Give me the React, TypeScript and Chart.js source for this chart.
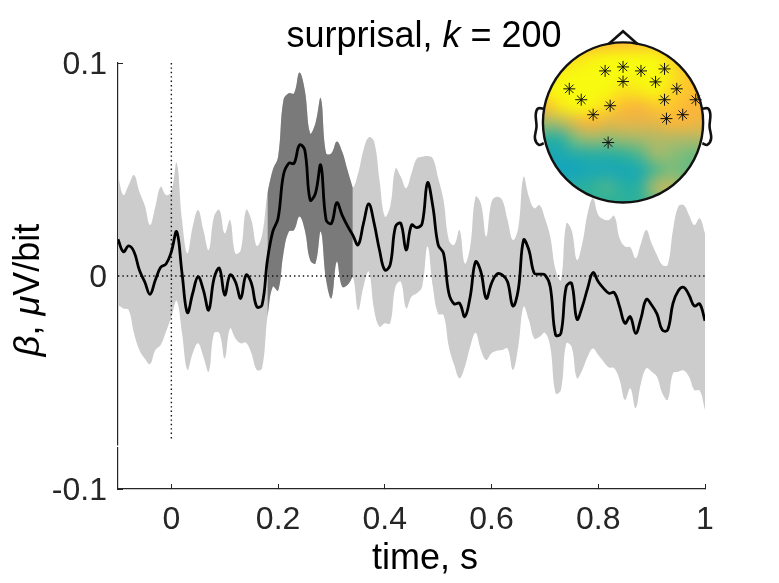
import React, { useEffect, useRef } from "react";
import { Chart, registerables, Plugin } from "chart.js";

Chart.register(...registerables);

const FONT = '"Liberation Sans", Arial, sans-serif';
const TEXT = "#262626";

const time = [
  -0.1, -0.09, -0.08, -0.07, -0.06, -0.05, -0.04, -0.03, -0.02, -0.01,
  0, 0.01, 0.02, 0.03, 0.04, 0.05, 0.06, 0.07, 0.08, 0.09,
  0.1, 0.11, 0.12, 0.13, 0.14, 0.15, 0.16, 0.17, 0.18, 0.19,
  0.2, 0.21, 0.22, 0.23, 0.24, 0.25, 0.26, 0.27, 0.28, 0.29,
  0.3, 0.31, 0.32, 0.33, 0.34, 0.35, 0.36, 0.37, 0.38, 0.39,
  0.4, 0.41, 0.42, 0.43, 0.44, 0.45, 0.46, 0.47, 0.48, 0.49,
  0.5, 0.51, 0.52, 0.53, 0.54, 0.55, 0.56, 0.57, 0.58, 0.59,
  0.6, 0.61, 0.62, 0.63, 0.64, 0.65, 0.66, 0.67, 0.68, 0.69,
  0.7, 0.71, 0.72, 0.73, 0.74, 0.75, 0.76, 0.77, 0.78, 0.79,
  0.8, 0.81, 0.82, 0.83, 0.84, 0.85, 0.86, 0.87, 0.88, 0.89,
  0.9, 0.91, 0.92, 0.93, 0.94, 0.95, 0.96, 0.97, 0.98, 0.99, 1,
];

const mean = [
  0.0172, 0.0114, 0.0141, 0.0114, 0.0028, -0.0027, -0.0086, -0.0019, 0.0041, 0.0056,
  0.0114, 0.0208, 0.0013, -0.0172, -0.0081, -0.0003, -0.0066, -0.016, -0.0011, 0.0036,
  -0.0089, 0.0005, -0.0027, -0.0105, 0.0005, -0.0034, -0.0144, -0.0136, 0.0075, 0.0208,
  0.0271, 0.0474, 0.0529, 0.0529, 0.0615, 0.0592, 0.0357, 0.0388, 0.0521, 0.0263,
  0.0247, 0.0344, 0.0286, 0.0235, 0.0192, 0.0146, 0.0247, 0.0338, 0.0247, 0.0122,
  0.0028, 0.0052, 0.0232, 0.0247, 0.0122, 0.0239, 0.0227, 0.0247, 0.0438, 0.0326,
  0.0146, 0.0106, -0.0081, -0.0131, -0.0128, -0.0191, -0.0097, 0.0067, 0.002, -0.0105,
  -0.0034, 0.0009, 0.0005, -0.0027, -0.0141, -0.0066, 0.0169, 0.0122, 0.0013, 0.0009,
  0.0005, -0.005, -0.0277, -0.0269, -0.005, -0.0034, -0.0203, -0.0144, -0.0058, 0.0016,
  -0.0027, -0.0058, -0.0081, -0.0078, -0.0144, -0.0222, -0.0191, -0.0269, -0.0199, -0.011,
  -0.0136, -0.0178, -0.0254, -0.0254, -0.0128, -0.0069, -0.0053, -0.0089, -0.0141, -0.0131, -0.021,
];

const upper = [
  0.0474, 0.038, 0.0427, 0.0474, 0.0396, 0.0333, 0.0239, 0.0326, 0.0419, 0.038,
  0.0396, 0.0532, 0.0263, 0.0106, 0.0232, 0.031, 0.0216, 0.0122, 0.0279, 0.031,
  0.02, 0.0263, 0.0106, 0.0122, 0.031, 0.0263, 0.0141, 0.0192, 0.0388, 0.0498,
  0.056, 0.0826, 0.0858, 0.0858, 0.0955, 0.0873, 0.067, 0.0717, 0.0834, 0.0576,
  0.0576, 0.0631, 0.0584, 0.0498, 0.0416, 0.0482, 0.0592, 0.0651, 0.0631, 0.0451,
  0.0279, 0.0326, 0.0505, 0.0466, 0.0412, 0.0482, 0.0552, 0.056, 0.0563, 0.0552,
  0.0459, 0.0357, 0.0169, 0.0146, 0.0216, 0.0059, 0.0138, 0.0372, 0.0341, 0.0185,
  0.0349, 0.0372, 0.0357, 0.0263, 0.0169, 0.0224, 0.0466, 0.0372, 0.0318, 0.0333,
  0.0271, 0.0185, 0.0028, -0.0019, 0.0247, 0.0216, 0.0075, 0.0153, 0.0294, 0.0365,
  0.0286, 0.0266, 0.0263, 0.0282, 0.0177, 0.0138, 0.0135, 0.0083, 0.0153, 0.0216,
  0.0153, 0.0099, 0.0052, 0.0052, 0.0216, 0.0326, 0.0333, 0.0286, 0.0239, 0.0271, 0.02,
];

const lower = [
  -0.0136, -0.0152, -0.016, -0.0269, -0.0347, -0.0387, -0.0413, -0.0347, -0.0324, -0.0261,
  -0.0191, -0.0116, -0.0269, -0.0441, -0.0363, -0.0316, -0.0379, -0.0449, -0.0269, -0.0269,
  -0.0387, -0.0246, -0.0293, -0.0316, -0.0313, -0.0363, -0.0441, -0.0433, -0.0191, -0.005,
  -0.0069, 0.0106, 0.0208, 0.0216, 0.0279, 0.0216, 0.0075, 0.0059, 0.0208, -0.0019,
  -0.0105, 0.0067, -0.005, -0.0042, -0.0003, -0.016, -0.005, 0.002, -0.016, -0.0238,
  -0.0222, -0.0222, -0.005, -0.0027, -0.0152, -0.0097, -0.0081, -0.005, 0.0138, -0.005,
  -0.0178, -0.0183, -0.0332, -0.0418, -0.048, -0.0426, -0.0332, -0.0266, -0.0347, -0.0394,
  -0.0363, -0.0351, -0.0347, -0.034, -0.0441, -0.0332, -0.0144, -0.0207, -0.0293, -0.0285,
  -0.0266, -0.0332, -0.0551, -0.0535, -0.0316, -0.0332, -0.048, -0.0441, -0.0379, -0.034,
  -0.0371, -0.0402, -0.0429, -0.0433, -0.0488, -0.0582, -0.0527, -0.0621, -0.0504, -0.0433,
  -0.0449, -0.0473, -0.0551, -0.0582, -0.0457, -0.0449, -0.0444, -0.0473, -0.0535, -0.0538, -0.0629,
];

// significant window, 0.18 to 0.34 s
const sigStart = 28;
const sigEnd = 44;

const xTicks = [0, 0.2, 0.4, 0.6, 0.8, 1];
const yTicks = [-0.1, 0, 0.1];

// electrode positions, head radius = 1
const elecX = [-0.224, 0, 0.224, 0.518, 0, 0.406, -0.671, 0.671, -0.522, 0.518, 0.907, -0.161, -0.373, 0.745, 0.542, -0.186];
const elecY = [0.644, 0.694, 0.644, 0.669, 0.511, 0.507, 0.42, 0.42, 0.284, 0.284, 0.284, 0.209, 0.097, 0.097, 0.048, -0.251];

const noseX = [-0.18, 0, 0.18];
const noseY = [0.98, 1.14, 0.98];
const earX = [0.98, 1.06, 1.09, 1.08, 1.1, 1.05, 0.99];
const earY = [0.17, 0.175, 0.1, -0.05, -0.2, -0.28, -0.26];

// scalp map, rows from y = 1 to y = -1, columns from x = -1 to x = 1
const topoGrid = [
  [0.8, 0.8, 0.8, 0.8, 0.8, 0.82, 0.82, 0.82, 0.8, 0.8, 0.8],
  [0.85, 0.87, 0.92, 0.97, 1, 1, 1, 1, 0.9, 0.82, 0.8],
  [0.92, 0.97, 1, 1, 1, 1, 1, 1, 0.95, 0.85, 0.82],
  [0.97, 1, 1, 1, 1, 0.93, 0.95, 1, 0.9, 0.85, 0.8],
  [0.8, 0.93, 1, 0.98, 0.9, 0.82, 0.78, 0.85, 0.85, 0.8, 0.78],
  [0.5, 0.55, 0.7, 0.8, 0.72, 0.72, 0.72, 0.72, 0.8, 0.78, 0.75],
  [0.2, 0.15, 0.4, 0.5, 0.45, 0.5, 0.52, 0.55, 0.55, 0.55, 0.55],
  [0.05, 0.05, 0.12, 0.15, 0.15, 0.2, 0.28, 0.5, 0.45, 0.38, 0.35],
  [0, 0, 0, 0.05, 0.05, 0.04, 0.06, 0.28, 0.4, 0.35, 0.35],
  [0.15, 0.15, 0.15, 0.2, 0.27, 0.15, 0.18, 0.55, 0.6, 0.4, 0.35],
  [0.2, 0.2, 0.2, 0.2, 0.2, 0.2, 0.2, 0.35, 0.5, 0.4, 0.35],
];

const topoStops = [
  [20, 165, 188],
  [46, 177, 154],
  [125, 189, 122],
  [196, 183, 95],
  [253, 182, 56],
  [248, 250, 15],
];

function topoColor(v: number) {
  const p = Math.min(0.9999, Math.max(0, v)) * (topoStops.length - 1);
  const i = Math.floor(p);
  const f = p - i;
  return topoStops[i].map((c, k) => Math.round(c + (topoStops[i + 1][k] - c) * f));
}

type Run = { text: string; italic?: boolean };

function drawRuns(ctx: CanvasRenderingContext2D, runs: Run[], size: number) {
  let total = 0;
  runs.forEach((r) => {
    ctx.font = `${r.italic ? "italic " : ""}${size}px ${FONT}`;
    total += ctx.measureText(r.text).width;
  });
  let x = -total / 2;
  runs.forEach((r) => {
    ctx.font = `${r.italic ? "italic " : ""}${size}px ${FONT}`;
    ctx.fillText(r.text, x, 0);
    x += ctx.measureText(r.text).width;
  });
}

// title and axis labels have mixed italics, which chart.js titles can't do
const labelsPlugin: Plugin<"line"> = {
  id: "labels",
  afterDraw(chart) {
    const { ctx } = chart;
    ctx.save();
    ctx.fillStyle = "#000000";
    ctx.textAlign = "left";
    ctx.textBaseline = "alphabetic";

    ctx.save();
    ctx.translate(424, 47);
    drawRuns(ctx, [{ text: "surprisal, " }, { text: "k", italic: true }, { text: " = 200" }], 36);
    ctx.restore();

    ctx.save();
    ctx.translate(425, 569);
    drawRuns(ctx, [{ text: "time, s" }], 36);
    ctx.restore();

    ctx.save();
    ctx.translate(39, 290);
    ctx.rotate(-Math.PI / 2);
    drawRuns(
      ctx,
      [{ text: "β", italic: true }, { text: ", " }, { text: "μ", italic: true }, { text: "V/bit" }],
      36
    );
    ctx.restore();

    // small break in the y axis
    ctx.fillStyle = "#ffffff";
    ctx.fillRect(116.5, 445.5, 3, 1.5);
    ctx.restore();
  },
};

const headPlugin: Plugin<"scatter"> = {
  id: "head",
  beforeDatasetsDraw(chart) {
    const { ctx } = chart;
    const sx = chart.scales.x;
    const sy = chart.scales.y;
    const cx = sx.getPixelForValue(0);
    const cy = sy.getPixelForValue(0);
    const r = sx.getPixelForValue(1) - cx;

    const rows = topoGrid.length;
    const cols = topoGrid[0].length;
    const off = document.createElement("canvas");
    off.width = cols;
    off.height = rows;
    const octx = off.getContext("2d");
    if (!octx) return;
    const img = octx.createImageData(cols, rows);
    topoGrid.forEach((row, j) => {
      row.forEach((v, i) => {
        const [cr, cg, cb] = topoColor(v);
        const o = (j * cols + i) * 4;
        img.data[o] = cr;
        img.data[o + 1] = cg;
        img.data[o + 2] = cb;
        img.data[o + 3] = 255;
      });
    });
    octx.putImageData(img, 0, 0);

    ctx.save();
    ctx.beginPath();
    ctx.arc(cx, cy, r, 0, Math.PI * 2);
    ctx.clip();
    ctx.imageSmoothingEnabled = true;
    ctx.imageSmoothingQuality = "high";
    ctx.filter = "blur(4px)";
    ctx.drawImage(off, cx - r * 1.1, cy - r * 1.1, r * 2.2, r * 2.2);
    ctx.restore();

    ctx.save();
    ctx.beginPath();
    ctx.arc(cx, cy, r, 0, Math.PI * 2);
    ctx.lineWidth = 2.4;
    ctx.strokeStyle = "#111111";
    ctx.stroke();
    ctx.restore();
  },
};

function TopoMap() {
  const ref = useRef<HTMLCanvasElement | null>(null);

  useEffect(() => {
    if (!ref.current) return;
    const outline = (xs: number[], ys: number[], sign: number, tension: number) => ({
      type: "line" as const,
      data: xs.map((x, i) => ({ x: x * sign, y: ys[i] })),
      borderColor: "#111111",
      borderWidth: 2.6,
      pointRadius: 0,
      tension,
      showLine: true,
      fill: false,
    });
    const chart = new Chart(ref.current, {
      type: "scatter",
      data: {
        datasets: [
          {
            data: elecX.map((x, i) => ({ x, y: elecY[i] })),
            pointStyle: "star",
            pointRadius: 6,
            borderColor: "#111111",
            backgroundColor: "#111111",
            borderWidth: 1,
          },
          outline(noseX, noseY, 1, 0),
          outline(earX, earY, 1, 0.35),
          outline(earX, earY, -1, 0.35),
        ] as any,
      },
      options: {
        animation: false,
        responsive: false,
        layout: { padding: 0 },
        plugins: { legend: { display: false }, tooltip: { enabled: false } },
        scales: {
          x: { type: "linear", display: false, min: -1.199, max: 1.248 },
          y: { type: "linear", display: false, min: -1.006, max: 1.1925 },
        },
      },
      plugins: [headPlugin],
    });
    return () => chart.destroy();
  }, []);

  return (
    <canvas
      ref={ref}
      width={210}
      height={190}
      style={{ position: "absolute", left: 520, top: 20, display: "block" }}
    />
  );
}

export default function App() {
  const ref = useRef<HTMLCanvasElement | null>(null);

  useEffect(() => {
    if (!ref.current) return;
    const pts = (ys: number[], from = 0, to = ys.length - 1) =>
      time.slice(from, to + 1).map((x, i) => ({ x, y: ys[from + i] }));
    const band = { borderWidth: 0, pointRadius: 0, tension: 0.4 };
    const dotted = {
      borderColor: "#111111",
      borderWidth: 1.4,
      borderDash: [1.4, 3],
      pointRadius: 0,
      fill: false,
      order: 1,
    };

    const chart = new Chart(ref.current, {
      type: "line",
      data: {
        datasets: [
          { data: pts(upper), fill: 1, backgroundColor: "#cccccc", order: 3, ...band },
          { data: pts(lower), fill: false, order: 3, ...band },
          { data: pts(upper, sigStart, sigEnd), fill: 3, backgroundColor: "#7a7a7a", order: 2, ...band },
          { data: pts(lower, sigStart, sigEnd), fill: false, order: 2, ...band },
          { data: [{ x: -0.1, y: 0 }, { x: 1, y: 0 }], ...dotted },
          { data: [{ x: 0, y: 0.1 }, { x: 0, y: -0.0775 }], ...dotted },
          {
            data: pts(mean),
            borderColor: "#000000",
            borderWidth: 2.8,
            pointRadius: 0,
            tension: 0.4,
            fill: false,
            order: 0,
          },
        ],
      },
      options: {
        animation: false,
        responsive: false,
        layout: { padding: { top: 63, right: 74 } },
        plugins: { legend: { display: false }, tooltip: { enabled: false } },
        scales: {
          x: {
            type: "linear",
            min: -0.1,
            max: 1,
            afterFit: (s) => {
              s.height = 94;
            },
            afterBuildTicks: (s) => {
              s.ticks = xTicks.map((value) => ({ value }));
            },
            border: { color: TEXT, width: 1.2 },
            grid: { drawOnChartArea: false, tickLength: -5, tickColor: TEXT, tickWidth: 1 },
            ticks: {
              color: TEXT,
              padding: 17,
              maxRotation: 0,
              font: { family: FONT, size: 32 },
              callback: (v) => String(v),
            },
          },
          y: {
            type: "linear",
            min: -0.1,
            max: 0.1,
            afterFit: (s) => {
              s.width = 118;
            },
            afterBuildTicks: (s) => {
              s.ticks = yTicks.map((value) => ({ value }));
            },
            border: { color: TEXT, width: 1.2 },
            grid: { drawOnChartArea: false, tickLength: -5, tickColor: TEXT, tickWidth: 1 },
            ticks: {
              color: TEXT,
              padding: 16,
              labelOffset: 2,
              font: { family: FONT, size: 32 },
              callback: (v) => String(v),
            },
          },
        },
      },
      plugins: [labelsPlugin],
    });

    return () => chart.destroy();
  }, []);

  return (
    <div style={{ position: "fixed", left: 0, top: 0, width: 779, height: 583, background: "#fff" }}>
      <canvas ref={ref} width={779} height={583} style={{ display: "block" }} />
      <TopoMap />
    </div>
  );
}
